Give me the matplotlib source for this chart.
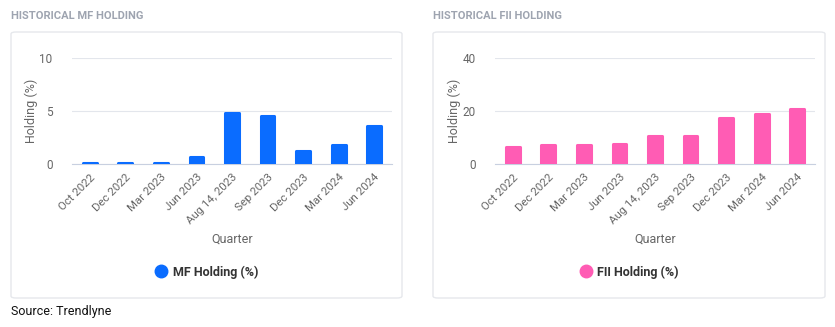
import matplotlib.pyplot as plt
from matplotlib.patches import FancyBboxPatch
from matplotlib.lines import Line2D

plt.rcParams['font.family'] = ['Roboto', 'DejaVu Sans']

# Data
quarters = ['Oct 2022', 'Dec 2022', 'Mar 2023', 'Jun 2023', 'Aug 14, 2023',
            'Sep 2023', 'Dec 2023', 'Mar 2024', 'Jun 2024']
mf_holding = [0.1, 0.1, 0.1, 0.7, 4.8, 4.5, 1.2, 1.8, 3.6]
fii_holding = [6.4, 7.1, 7.1, 7.4, 10.5, 10.5, 17.4, 19.0, 20.9]

W, H = 835, 327
fig = plt.figure(figsize=(W / 100, H / 100), dpi=100)
fig.patch.set_facecolor('white')


def px(x, y):
    return x / W, 1 - y / H


panels = [
    dict(title='HISTORICAL MF HOLDING', data=mf_holding, color='#0a6cff',
         ylim=(0, 10), ticks=[0, 5, 10], label='MF Holding (%)',
         card=(11, 402), ax_x=(72, 392)),
    dict(title='HISTORICAL FII HOLDING', data=fii_holding, color='#ff5cb4',
         ylim=(0, 40), ticks=[0, 20, 40], label='FII Holding (%)',
         card=(433, 825), ax_x=(495, 815)),
]

for p in panels:
    cx0, cx1 = p['card']
    # card background
    x0, y1 = px(cx0, 32)
    x1, y0 = px(cx1, 298)
    card = FancyBboxPatch((x0, y0), x1 - x0, y1 - y0,
                          boxstyle='round,pad=0,rounding_size=0.006',
                          transform=fig.transFigure, facecolor='white',
                          edgecolor='#e6e8ec', linewidth=1, zorder=-5)
    fig.patches.append(card)

    tx, ty = px(cx0, 16)
    fig.text(tx, ty, p['title'], fontsize=8, fontweight='bold',
             color='#9ea4b0', va='center', ha='left')

    ax0, ay1 = px(p['ax_x'][0], 58)
    ax1_, ay0 = px(p['ax_x'][1], 164)
    ax = fig.add_axes([ax0, ay0, ax1_ - ax0, ay1 - ay0])
    ax.set_facecolor('none')

    bars = ax.bar(range(len(quarters)), p['data'], width=0.39,
                  color=p['color'], edgecolor=p['color'], linewidth=2.2,
                  zorder=3)
    for b in bars:
        b.set_joinstyle('round')

    ax.set_xlim(-0.5, len(quarters) - 0.5)
    ax.set_ylim(*p['ylim'])
    ax.set_yticks(p['ticks'])
    ax.set_xticks(range(len(quarters)))
    ax.set_xticklabels(quarters, rotation=45, ha='right',
                       rotation_mode='anchor', fontsize=8.2, color='#666666')
    ax.tick_params(axis='x', length=0, pad=6)
    ax.tick_params(axis='y', length=0, pad=14, labelsize=8.5,
                   labelcolor='#666666')
    ax.grid(axis='y', color='#e3e6ec', linewidth=0.8, zorder=0)
    for s in ['top', 'right', 'left']:
        ax.spines[s].set_visible(False)
    ax.spines['bottom'].set_color('#c8d0e0')
    ax.spines['bottom'].set_linewidth(0.8)
    ax.set_ylabel('Holding (%)', fontsize=9, color='#666666', labelpad=1)

    qx, qy = px((p['ax_x'][0] + p['ax_x'][1]) / 2, 239)
    fig.text(qx, qy, 'Quarter', fontsize=9, color='#666666',
             ha='center', va='center')

    lx, ly = px((cx0 + cx1) / 2, 272)
    handle = Line2D([], [], marker='o', linestyle='none', markersize=9,
                    markerfacecolor=p['color'], markeredgecolor=p['color'])
    fig.legend([handle], [p['label']], loc='center', bbox_to_anchor=(lx, ly),
               frameon=False, handletextpad=0.4, handlelength=1.0,
               prop={'size': 9, 'weight': 'bold'}, labelcolor='#333333')

sx, sy = px(11, 311)
fig.text(sx, sy, 'Source: Trendlyne', fontsize=9, color='#111111',
         ha='left', va='center')

fig.savefig('out.png', dpi=100)
